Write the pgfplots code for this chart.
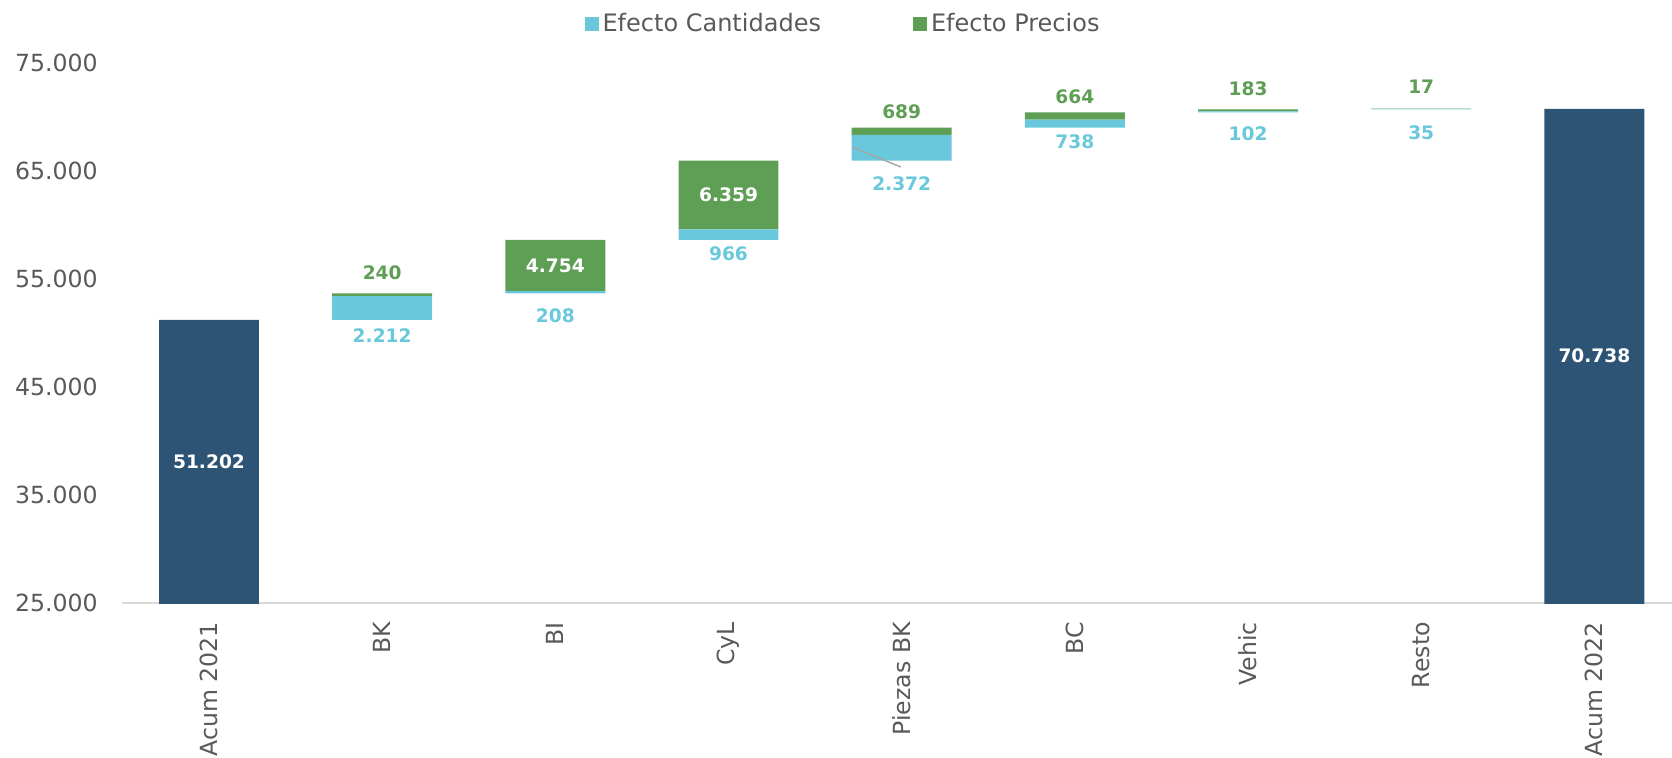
\documentclass[border=0pt]{standalone}
\usepackage{fontspec}
\setmainfont{DejaVu Sans}
\usepackage{pgfplots}
\pgfplotsset{compat=1.18}
\definecolor{cqty}{HTML}{69C8DC}
\definecolor{cpri}{HTML}{5F9E55}
\definecolor{ctot}{HTML}{2E5475}
\definecolor{ctxt}{HTML}{595959}
\definecolor{caxis}{HTML}{D9D9D9}
\definecolor{clead}{HTML}{A6A6A6}
\tikzset{vl/.style={font=\fontsize{9.3}{11}\selectfont\bfseries, inner sep=0pt}}
\begin{document}
\begin{tikzpicture}
\useasboundingbox (0,0) rectangle (836pt,379pt);
\begin{axis}[
  at={(61.2pt,77.35pt)}, anchor=south west,
  scale only axis, width=779.3pt, height=270.3pt,
  ybar stacked, bar width=0.577,
  xmin=-0.5, xmax=8.5, ymin=25000, ymax=75000,
  xtick={0,...,8},
  xticklabels={Acum 2021,BK,BI,CyL,Piezas BK,BC,Vehic,Resto,Acum 2022},
  ytick={25000,35000,45000,55000,65000,75000},
  scaled y ticks=false,
  /pgf/number format/.cd, fixed, 1000 sep={.}, assume math mode=true, /pgfplots/.cd,
  ticklabel style={font=\fontsize{11.8}{14}\selectfont, text=ctxt},
  xticklabel style={rotate=90, anchor=east, inner sep=0pt},
  yticklabel style={anchor=east, inner sep=0pt},
  xticklabel shift=9.3pt, yticklabel shift=12.2pt,
  major tick length=0pt,
  axis x line*=bottom, axis y line*=left,
  x axis line style={draw=caxis, line width=0.8pt, -},
  y axis line style={draw=none},
  legend style={at={(0.463,1.0716)}, anchor=center, draw=none, fill=none,
    legend columns=2, font=\fontsize{12}{14}\selectfont, text=ctxt,
    /tikz/every even column/.append style={column sep=44pt}},
  legend image code/.code={\fill[#1] (0pt,-3.35pt) rectangle (7pt,3.35pt);},
]
\addplot[fill=none, draw=none, forget plot] coordinates {(0,0) (1,51202) (2,53654) (3,58616) (4,65941) (5,69002) (6,70404) (7,70689) (8,0)};
\addplot[fill=ctot, draw=none, forget plot] coordinates {(0,51202) (1,0) (2,0) (3,0) (4,0) (5,0) (6,0) (7,0) (8,70738)};
\addplot[fill=cqty, draw=none] coordinates {(0,0) (1,2212) (2,208) (3,966) (4,2372) (5,738) (6,102) (7,35) (8,0)};
\addlegendentry{Efecto Cantidades}
\addplot[fill=cpri, draw=none] coordinates {(0,0) (1,240) (2,4754) (3,6359) (4,689) (5,664) (6,183) (7,17) (8,0)};
\addlegendentry{Efecto Precios}
\coordinate (t0) at (axis cs:0,38101);
\coordinate (t8) at (axis cs:8,47869);
\coordinate (p1) at (axis cs:1,55596);
\coordinate (q1) at (axis cs:1,49732);
\coordinate (p2) at (axis cs:2,56239);
\coordinate (q2) at (axis cs:2,51609);
\coordinate (p3) at (axis cs:3,62761);
\coordinate (q3) at (axis cs:3,57325);
\coordinate (p4) at (axis cs:4,70468);
\coordinate (la) at (axis cs:3.712,67203);
\coordinate (lb) at (axis cs:3.995,65353);
\coordinate (q4) at (axis cs:4,63827);
\coordinate (p5) at (axis cs:5,71874);
\coordinate (q5) at (axis cs:5,67666);
\coordinate (p6) at (axis cs:6,72600);
\coordinate (q6) at (axis cs:6,68400);
\coordinate (p7) at (axis cs:7,72750);
\coordinate (q7) at (axis cs:7,68550);
\end{axis}
\node[vl, text=white] at (t0) {51.202};
\node[vl, text=white] at (t8) {70.738};
\node[vl, text=cpri] at (p1) {240};
\node[vl, text=cqty] at (q1) {2.212};
\node[vl, text=white] at (p2) {4.754};
\node[vl, text=cqty] at (q2) {208};
\node[vl, text=white] at (p3) {6.359};
\node[vl, text=cqty] at (q3) {966};
\node[vl, text=cpri] at (p4) {689};
\draw[clead, line width=0.7pt] (la) -- (lb);
\node[vl, text=cqty] at (q4) {2.372};
\node[vl, text=cpri] at (p5) {664};
\node[vl, text=cqty] at (q5) {738};
\node[vl, text=cpri] at (p6) {183};
\node[vl, text=cqty] at (q6) {102};
\node[vl, text=cpri] at (p7) {17};
\node[vl, text=cqty] at (q7) {35};
\end{tikzpicture}
\end{document}
